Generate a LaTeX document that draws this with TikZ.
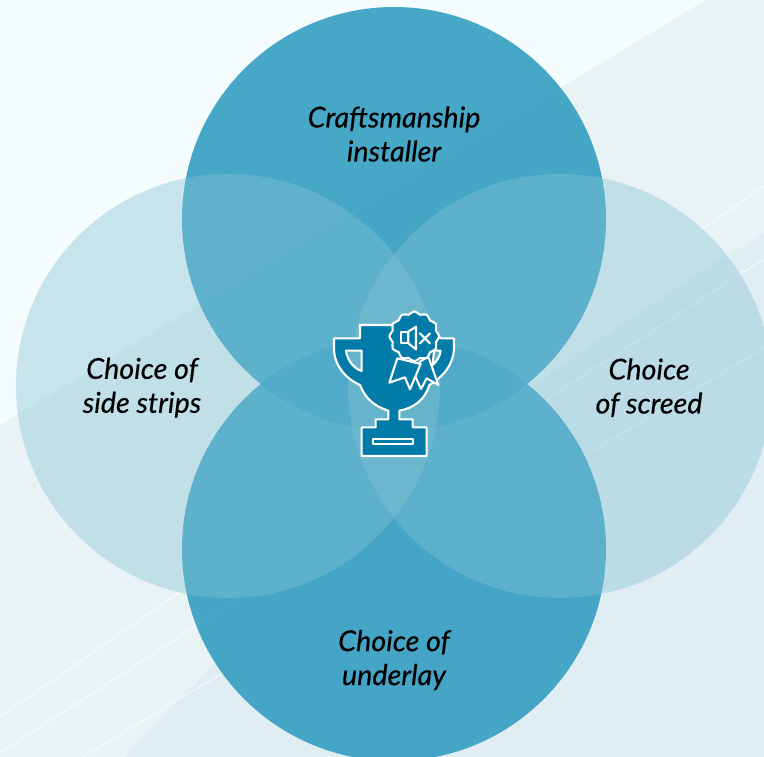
\documentclass[tikz,border=0pt]{standalone}
\usepackage{fontspec}
\setmainfont{Lato}[ItalicFeatures={FakeBold=0.35}]
\definecolor{bgA}{HTML}{F5FCFD}
\definecolor{bgB}{HTML}{E9F3F5}
\definecolor{bgC}{HTML}{E0EEF3}
\definecolor{strong}{HTML}{2F9CC0}
\definecolor{pale}{HTML}{84C2D4}
\definecolor{cup}{HTML}{027BA9}
\tikzset{
  strongc/.style={fill=strong,fill opacity=.88,draw=none},
  palec/.style={fill=pale,fill opacity=.4,draw=none},
  streak/.style={draw=white,opacity=.6,line width=1.1pt},
  lbl/.style={text=black,align=center,font=\fontsize{28.7}{34}\selectfont\itshape},
  icon/.style={draw=white,line width=2.1pt,fill=cup,line join=round},
}
\begin{document}
\begin{tikzpicture}[x=1pt,y=-1pt]
\useasboundingbox (0,0) rectangle (764,757);
\fill[bgA] (0,0) rectangle (764,757);
\fill[bgB] (0,425) -- (706,0) -- (764,0) -- (764,757) -- (0,757) -- cycle;
\fill[bgC] (125,757) .. controls (300,570) and (480,405) .. (764,233) -- (764,757) -- cycle;
\coordinate (a1) at (0,717); \coordinate (a2) at (764,186);
\coordinate (b1) at (0,753); \coordinate (b2) at (764,259);
\coordinate (c1) at (83,757); \coordinate (c2) at (764,348);
\draw[streak] (a1) -- (a2);
\draw[streak] (b1) -- (b2);
\draw[streak] (c1) -- (c2);
\fill[strongc] (394,219) circle[radius=212];
\fill[strongc] (394,549) circle[radius=212];
\fill[palec] (228,386) circle[radius=212];
\fill[palec] (560,386) circle[radius=212];
\begin{scope}[shift={(310,290)},x=0.3333pt,y=-0.3333pt]
\path[icon,even odd rule] (150,105) -- (250,105) -- (395,145) -- (432,145) -- (432,175)
  .. controls (430,225) and (400,260) .. (358,285)
  .. controls (345,330) and (310,355) .. (268,362)
  -- (268,388) -- (308,388) -- (308,412) -- (350,412) -- (350,498) -- (155,498) -- (155,412)
  -- (197,412) -- (197,388) -- (235,388) -- (235,362)
  .. controls (195,350) and (165,325) .. (150,285)
  .. controls (105,265) and (72,225) .. (72,175)
  -- (72,145) -- (150,145) -- cycle
  (108,182) -- (155,182) -- (155,243) .. controls (130,235) and (112,210) .. (108,182) -- cycle
  (372,182) -- (392,182) .. controls (390,200) and (380,215) .. (368,225) -- cycle;
\path[icon] (190,447) rectangle (310,463);
\path[icon] (355,200) -- (385,285) -- (350,265) -- (333,297) -- (312,250) -- (330,215) -- cycle;
\path[icon] (262,205) -- (238,278) -- (285,262) -- (300,298) -- (332,222) -- cycle;
\path[icon] plot[smooth cycle,tension=.6,samples=48,domain=0:352.5,variable=\t]
  ({313+(71+4*cos(12*\t))*cos(\t)},{139-(71+4*cos(12*\t))*sin(\t)});
\path[icon] (272,125) rectangle (295,160);
\path[icon] (295,125) -- (318,110) -- (318,178) -- (295,160) -- cycle;
\draw[white,line width=2.1pt,line cap=round] (330,130) -- (360,160) (360,130) -- (330,160);
\end{scope}
\node[lbl] (craft) at (394,134) {Craftsmanship\\installer};
\node[lbl] (side) at (142,387.7) {Choice of\\side strips};
\node[lbl] (screed) at (649,387.7) {Choice\\of screed};
\node[lbl] (underlay) at (394,660) {Choice of\\underlay};
\end{tikzpicture}
\end{document}
